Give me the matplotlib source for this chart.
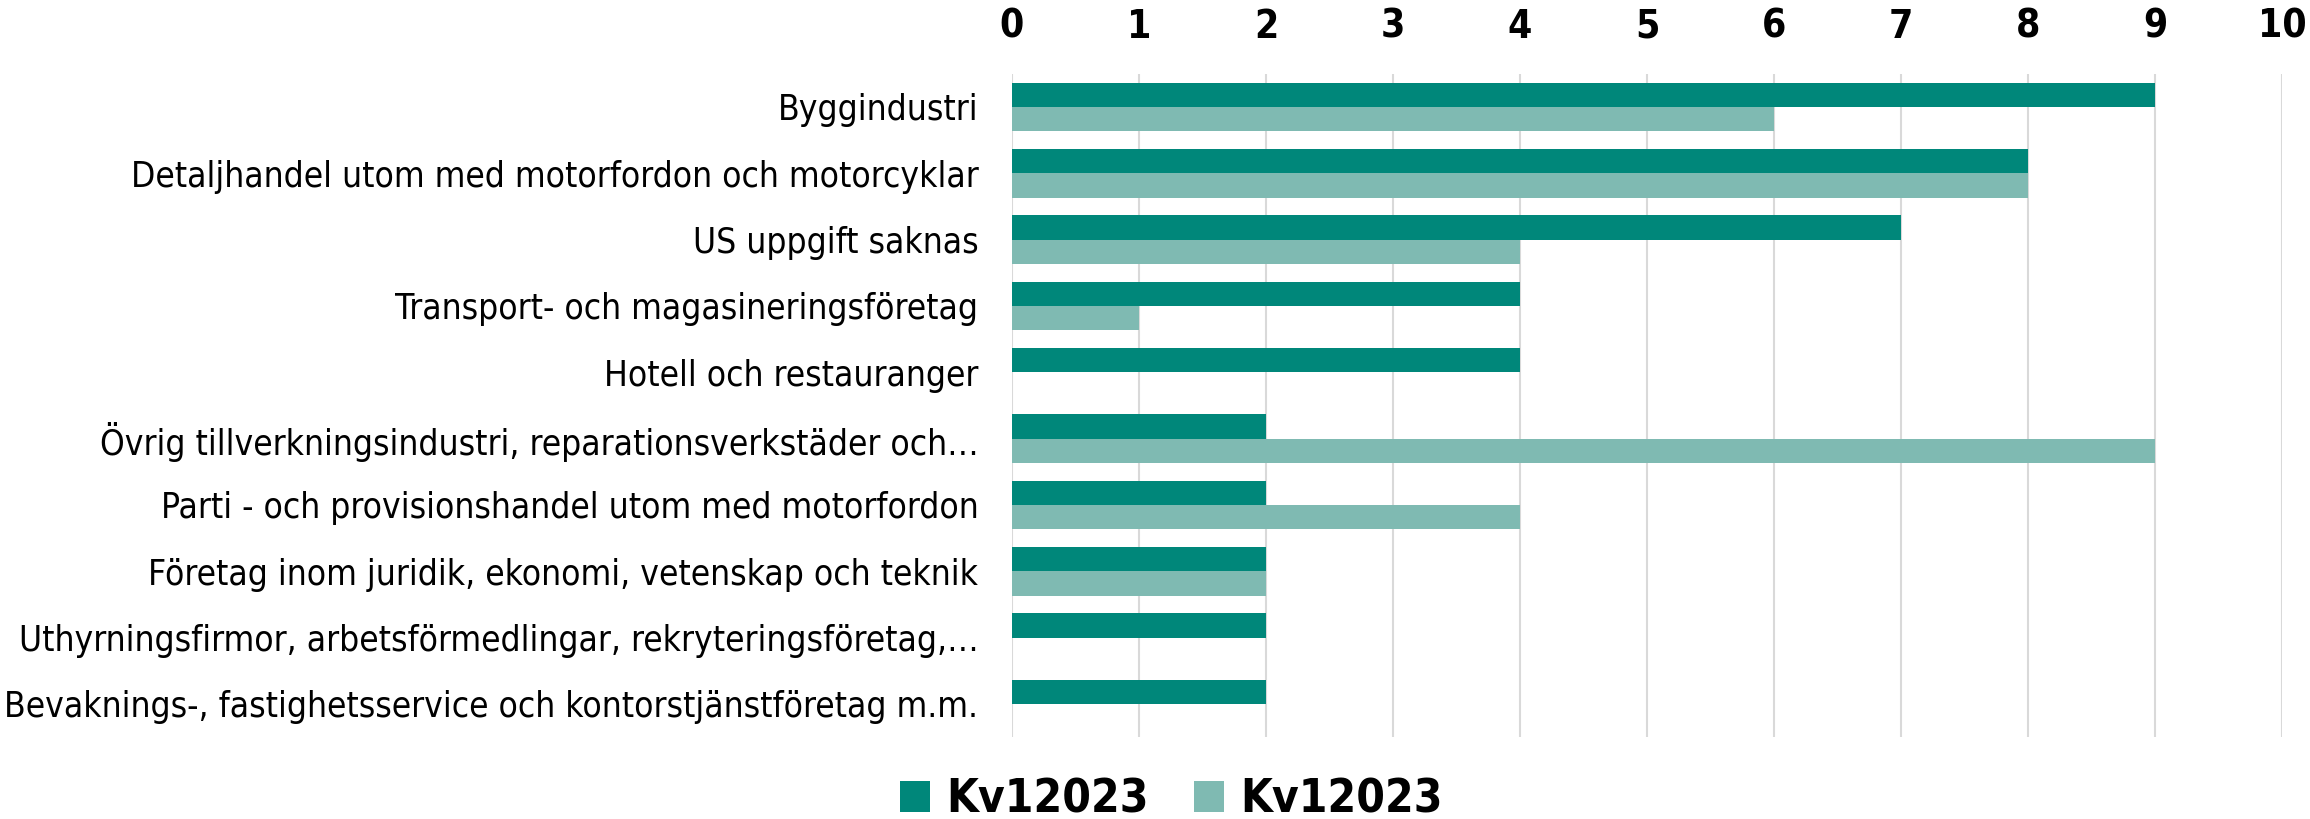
import matplotlib
matplotlib.use("Agg")
import matplotlib.pyplot as plt
import numpy as np
from matplotlib import font_manager
from matplotlib.font_manager import FontProperties

categories = [
    "Byggindustri",
    "Detaljhandel utom med motorfordon och motorcyklar",
    "US uppgift saknas",
    "Transport- och magasineringsföretag",
    "Hotell och restauranger",
    "Övrig tillverkningsindustri, reparationsverkstäder och…",
    "Parti - och provisionshandel utom med motorfordon",
    "Företag inom juridik, ekonomi, vetenskap och teknik",
    "Uthyrningsfirmor, arbetsförmedlingar, rekryteringsföretag,…",
    "Bevaknings-, fastighetsservice och kontorstjänstföretag m.m.",
]
series1 = [9, 8, 7, 4, 4, 2, 2, 2, 2, 2]
series2 = [6, 8, 4, 1, 0, 9, 4, 2, 0, 0]
series_names = ["Kv12023", "Kv12023"]
xticks = list(range(0, 11))

# find a condensed sans font if available
cond_file = None
cond_bold_file = None
for f in font_manager.fontManager.ttflist:
    fn = f.fname
    base = fn.split("/")[-1]
    if base == "DejaVuSansCondensed.ttf":
        cond_file = fn
    if base == "DejaVuSansCondensed-Bold.ttf":
        cond_bold_file = fn
    if cond_file is None and "Narrow" in base and "Bold" not in base and "Italic" not in base:
        cond_file = fn

if cond_file:
    label_fp = FontProperties(fname=cond_file, size=25.3)
else:
    label_fp = FontProperties(family="Liberation Sans", size=24)
if cond_bold_file:
    bold_fp = lambda s: FontProperties(fname=cond_bold_file, size=s)
else:
    bold_fp = lambda s: FontProperties(family="Liberation Sans", weight="bold", size=s)

c1 = "#00877A"
c2 = "#7FBAB2"

fig = plt.figure(figsize=(23.1, 8.19), dpi=100)
ax = fig.add_axes([0.438, 0.100, 0.550, 0.810])

y = np.arange(len(categories))
h = 0.367
ax.barh(y - h / 2, series1, height=h, color=c1, label=series_names[0], zorder=3)
ax.barh(y + h / 2, series2, height=h, color=c2, label=series_names[1], zorder=3)

ax.set_ylim(len(categories) - 0.5, -0.5)
ax.set_xlim(0, 10)
ax.set_xticks(xticks)
ax.xaxis.tick_top()
ax.tick_params(axis="x", length=0, pad=20)
ax.tick_params(axis="y", length=0, pad=24)
ax.set_xticklabels([str(v) for v in xticks])
for t in ax.get_xticklabels():
    t.set_fontproperties(bold_fp(28))
ax.set_yticks(y)
ax.set_yticklabels(categories)
for t in ax.get_yticklabels():
    t.set_fontproperties(label_fp)
ax.grid(axis="x", color="#D9D9D9", linewidth=1.5, zorder=0)
for s in ax.spines.values():
    s.set_visible(False)

leg = fig.legend(loc="lower center", bbox_to_anchor=(0.507, -0.055), ncol=2, frameon=False,
                 prop=bold_fp(33),
                 handlelength=0.65, handleheight=0.65, handletextpad=0.35, columnspacing=1.0)

fig.savefig("out.png", dpi=100)
